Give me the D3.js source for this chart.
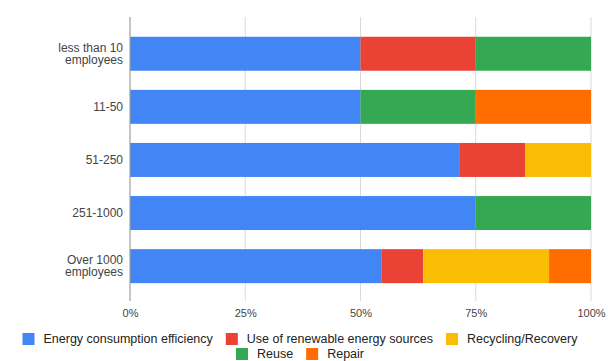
<!DOCTYPE html>
<html>
<head>
<meta charset="utf-8">
<script src="https://cdn.jsdelivr.net/npm/d3@7"></script>
<style>
  html, body { margin: 0; padding: 0; background: #fff; }
  svg { display: block; font-family: "Liberation Sans", Arial, sans-serif; }
</style>
</head>
<body>
<svg id="chart" width="608" height="361"></svg>
<script>
// Company size groups (rows, top to bottom)
const categories = [
  ["less than 10", "employees"],
  ["11-50"],
  ["51-250"],
  ["251-1000"],
  ["Over 1000", "employees"]
];
const categoryKeys = ["lt10", "11-50", "51-250", "251-1000", "gt1000"];

// Sustainability practices (stack order)
const seriesNames = [
  "Energy consumption efficiency",
  "Use of renewable energy sources",
  "Recycling/Recovery",
  "Reuse",
  "Repair"
];
const seriesColors = ["#4285F4", "#EA4335", "#FBBC04", "#34A853", "#FF6D01"];

// Share of each practice per group, in percent
const energyEfficiency = [50, 50, 71.4, 75, 54.5];
const renewableEnergy  = [25, 0, 14.3, 0, 9.1];
const recycling        = [0, 0, 14.3, 0, 27.3];
const reuse            = [25, 25, 0, 25, 0];
const repair           = [0, 25, 0, 0, 9.1];

const xTicks = [0, 25, 50, 75, 100];
const xTickLabels = ["0%", "25%", "50%", "75%", "100%"];

const seriesValues = [energyEfficiency, renewableEnergy, recycling, reuse, repair];
const rows = categoryKeys.map((k, i) => {
  const r = { key: k };
  seriesNames.forEach((s, j) => { r[s] = seriesValues[j][i]; });
  return r;
});

const svg = d3.select("#chart");
const x = d3.scaleLinear().domain([0, 100]).range([130, 591]);
const y = d3.scaleBand().domain(categoryKeys).range([27.2, 292.7])
  .paddingInner(0.36).paddingOuter(0.18);
const gridTop = 17, gridBottom = 301;

// Vertical gridlines
svg.append("g").selectAll("line").data(xTicks.slice(1)).join("line")
  .attr("x1", d => x(d)).attr("x2", d => x(d))
  .attr("y1", gridTop).attr("y2", gridBottom)
  .attr("stroke", "#d9d9d9").attr("stroke-width", 1);

// Stacked bars
const stack = d3.stack().keys(seriesNames)(rows);
svg.append("g").selectAll("g").data(stack).join("g")
  .attr("fill", (d, i) => seriesColors[i])
  .selectAll("rect").data(d => d).join("rect")
  .attr("x", d => x(d[0]))
  .attr("width", d => Math.max(0, x(d[1]) - x(d[0])))
  .attr("y", d => y(d.data.key))
  .attr("height", y.bandwidth());

// Baseline
svg.append("line")
  .attr("x1", x(0)).attr("x2", x(0))
  .attr("y1", gridTop).attr("y2", gridBottom)
  .attr("stroke", "#9e9e9e").attr("stroke-width", 1.2);

// X tick labels
const xAxis = d3.axisBottom(x).tickValues(xTicks)
  .tickFormat((d, i) => xTickLabels[i]).tickSize(0).tickPadding(0);
const gx = svg.append("g").attr("transform", `translate(0, ${gridBottom + 8})`).call(xAxis);
gx.select(".domain").remove();
gx.selectAll("text").attr("font-size", 11).attr("fill", "#444")
  .attr("font-family", "'Liberation Sans', Arial, sans-serif");

// Category labels
const yLab = svg.append("g");
categoryKeys.forEach((k, i) => {
  const lines = categories[i];
  const cy = y(k) + y.bandwidth() / 2;
  const lh = 12.5;
  const t = yLab.append("text")
    .attr("text-anchor", "end").attr("font-size", 12).attr("fill", "#444");
  lines.forEach((ln, j) => {
    t.append("tspan").attr("x", 123)
      .attr("y", cy + (j - (lines.length - 1) / 2) * lh + 4)
      .text(ln);
  });
});

// Legend: two centered rows
const legendRows = [[0, 1, 2], [3, 4]];
const legendY = [339, 354];
const lg = svg.append("g");
legendRows.forEach((row, ri) => {
  const g = lg.append("g");
  let cx = 0;
  row.forEach((si, k) => {
    g.append("rect").attr("x", cx).attr("y", legendY[ri] - 6)
      .attr("width", 12).attr("height", 12).attr("fill", seriesColors[si]);
    const t = g.append("text").attr("x", cx + 21).attr("y", legendY[ri] + 4)
      .attr("font-size", 12.5).attr("fill", "#222").text(seriesNames[si]);
    cx += 21 + t.node().getComputedTextLength() + (k < row.length - 1 ? 13 : 0);
  });
  g.attr("transform", `translate(${300 - cx / 2}, 0)`);
});
</script>
</body>
</html>
